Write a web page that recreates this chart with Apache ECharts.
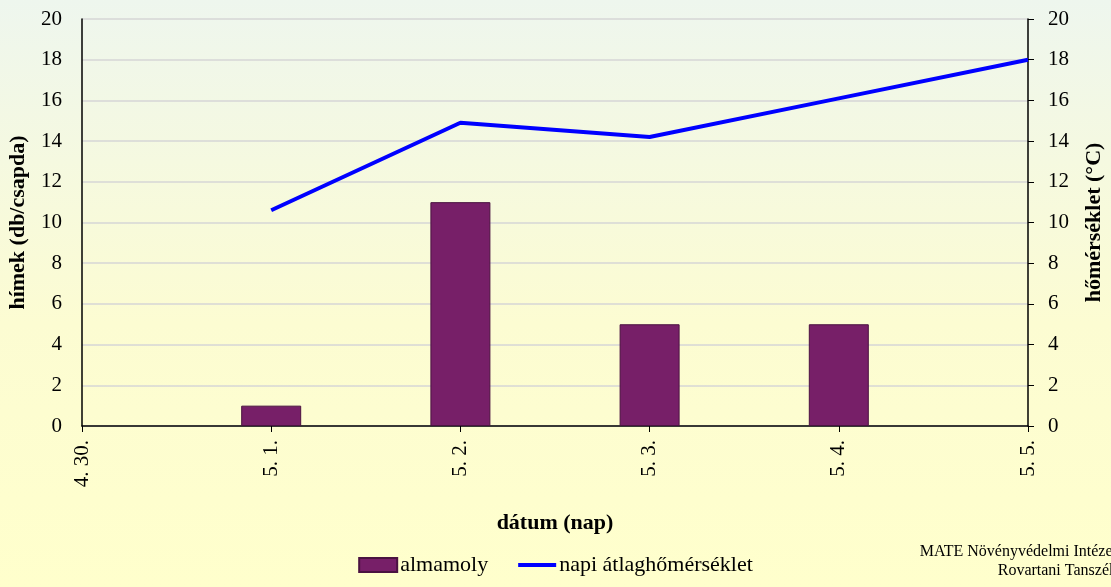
<!DOCTYPE html>
<html>
<head>
<meta charset="utf-8">
<script src="https://cdn.jsdelivr.net/npm/echarts@6/dist/echarts.min.js"></script>
<style>
  html, body { margin: 0; padding: 0; }
  #main { width: 1111px; height: 587px; }
</style>
</head>
<body>
<div id="main"></div>
<script>
// adatok
const dates = ['4. 30.', '5. 1.', '5. 2.', '5. 3.', '5. 4.', '5. 5.'];
const almamoly = [null, 1, 11, 5, 5, null];
const napiAtlag = [null, 10.6, 14.9, 14.2, 16.1, 18.0];
const leftTicks = { min: 0, max: 20, interval: 2 };
const rightTicks = { min: 0, max: 20, interval: 2 };

const serif = '"Liberation Serif", "DejaVu Serif", serif';
const chart = echarts.init(document.getElementById('main'));

const option = {
  backgroundColor: new echarts.graphic.LinearGradient(0, 0, 0, 1, [
    { offset: 0, color: '#eef6ee' },
    { offset: 0.55, color: '#fcfcd2' },
    { offset: 1, color: '#ffffcc' }
  ]),
  textStyle: { fontFamily: serif, color: '#000' },
  grid: { left: 82, right: 83, top: 19, bottom: 161, containLabel: false, outerBoundsMode: 'none' },
  legend: {
    bottom: 6,
    left: 'center',
    itemGap: 30,
    itemWidth: 38,
    itemHeight: 14,
    textStyle: { fontFamily: serif, fontSize: 22, color: '#000', padding: [0, 0, 0, -2] },
    data: [
      { name: 'almamoly', icon: 'rect' },
      { name: 'napi átlaghőmérséklet', icon: 'path://M0,0H40V4H0Z' }
    ]
  },
  xAxis: {
    type: 'category',
    data: dates,
    boundaryGap: false,
    name: 'dátum (nap)',
    nameLocation: 'middle',
    nameGap: 86,
    nameTextStyle: { fontFamily: serif, fontSize: 22, fontWeight: 'bold', color: '#000' },
    axisLine: { lineStyle: { color: '#000', width: 1.5 } },
    axisTick: { alignWithLabel: true, length: 6, lineStyle: { color: '#000' } },
    axisLabel: { rotate: 90, fontFamily: serif, fontSize: 21, color: '#000', margin: 14 },
    splitLine: { show: false }
  },
  yAxis: [
    {
      type: 'value',
      min: leftTicks.min,
      max: leftTicks.max,
      interval: leftTicks.interval,
      name: 'hímek (db/csapda)',
      nameLocation: 'middle',
      nameRotate: 90,
      nameGap: 53,
      nameTextStyle: { fontFamily: serif, fontSize: 22, fontWeight: 'bold', color: '#000' },
      axisLine: { show: true, lineStyle: { color: '#000', width: 1.5 } },
      axisTick: { show: false },
      axisLabel: { fontFamily: serif, fontSize: 21, color: '#000', margin: 20 },
      splitLine: { show: true, lineStyle: { color: '#d6d6d6', width: 1.5 } }
    },
    {
      type: 'value',
      min: rightTicks.min,
      max: rightTicks.max,
      interval: rightTicks.interval,
      position: 'right',
      name: 'hőmérséklet (°C)',
      nameLocation: 'middle',
      nameRotate: 90,
      nameGap: 55,
      nameTextStyle: { fontFamily: serif, fontSize: 22, fontWeight: 'bold', color: '#000' },
      axisLine: { show: true, lineStyle: { color: '#000', width: 1.5 } },
      axisTick: { show: true, inside: false, length: 6, lineStyle: { color: '#000' } },
      axisLabel: { fontFamily: serif, fontSize: 21, color: '#000', margin: 20 },
      splitLine: { show: false }
    }
  ],
  graphic: [
    {
      type: 'text',
      x: 1117,
      y: 542,
      style: {
        text: 'MATE Növényvédelmi Intézet\nRovartani Tanszék',
        font: '16px ' + serif,
        fill: '#000',
        align: 'right',
        lineHeight: 19
      }
    }
  ],
  series: [
    {
      name: 'almamoly',
      type: 'bar',
      yAxisIndex: 0,
      barWidth: 60,
      itemStyle: { color: '#771f68', borderColor: '#4a1241', borderWidth: 1 },
      data: almamoly
    },
    {
      name: 'napi átlaghőmérséklet',
      type: 'line',
      yAxisIndex: 1,
      symbol: 'none',
      lineStyle: { color: '#0000ff', width: 4 },
      itemStyle: { color: '#0000ff' },
      data: napiAtlag
    }
  ]
};

chart.setOption(option);
</script>
</body>
</html>
